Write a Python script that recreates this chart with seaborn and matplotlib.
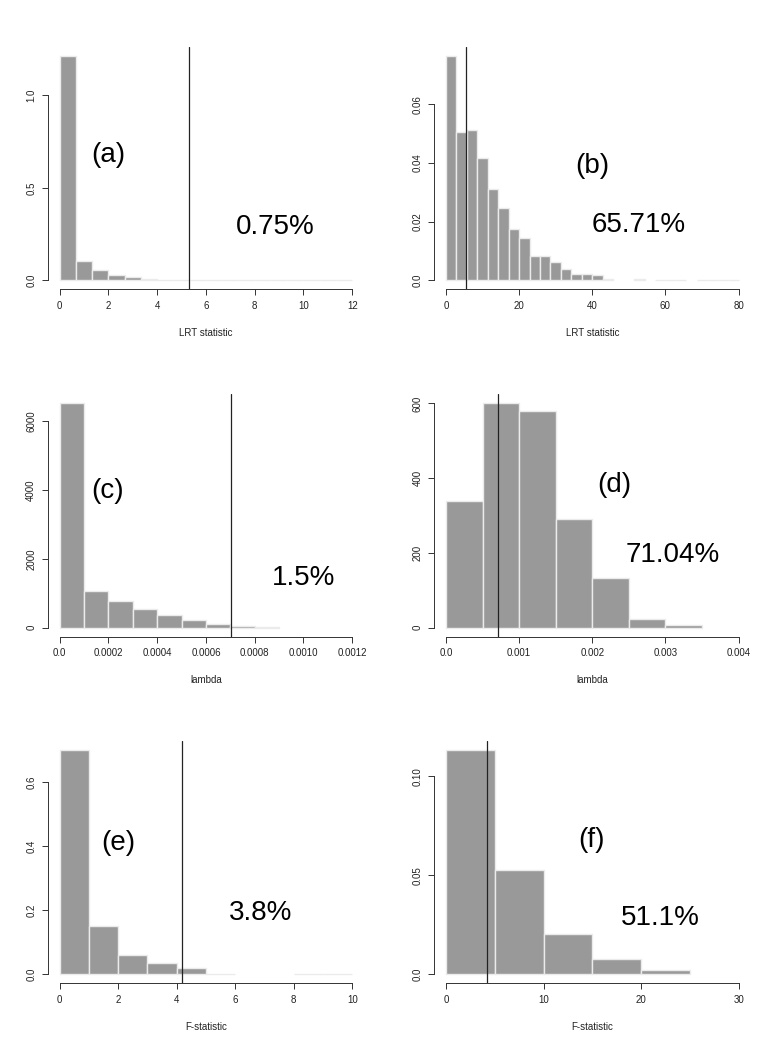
import numpy as np
import pandas as pd
import matplotlib
matplotlib.use("Agg")
import matplotlib.pyplot as plt
import seaborn as sns

sns.set_style("white")
plt.rcParams['font.family'] = ['Liberation Sans', 'DejaVu Sans']

# (a) LRT statistic, bins of width 2/3 from 0 to 12
a_heights = [1.215, 0.102, 0.055, 0.031, 0.016, 0.005, 0.002, 0.002,
             0.0004, 0.0004, 0.0004, 0.0004, 0.0004, 0.0004, 0.0004, 0.0004, 0.0004, 0.0004]
a_width = 2 / 3
# (b) LRT statistic, bins of width 80/28
b_heights = [0.0765, 0.0504, 0.0512, 0.0418, 0.0311, 0.0246, 0.0175, 0.0144,
             0.0082, 0.0082, 0.0064, 0.0038, 0.0023, 0.0023, 0.0017, 0.0003,
             0.0, 0.0, 0.0003, 0.0, 0.0001, 0.0001, 0.0001, 0.0,
             0.0001, 0.0001, 0.0001, 0.0001]
b_width = 80 / 28
# (c) lambda, bins of width 0.0001
c_heights = [6530, 1063, 771, 556, 371, 215, 117, 39, 8]
c_width = 0.0001
# (d) lambda, bins of width 0.0005
d_heights = [338, 601, 579, 291, 134, 24, 8]
d_width = 0.0005
# (e) F-statistic, bins of width 1
e_heights = [0.700, 0.150, 0.060, 0.034, 0.019, 0.0004, 0.0, 0.0, 0.0004, 0.0004]
e_width = 1.0
# (f) F-statistic, bins of width 5
f_heights = [0.1134, 0.0529, 0.0205, 0.0078, 0.0024]
f_width = 5.0

vlines = [5.31, 5.37, 0.000704, 0.000713, 4.18, 4.23]
labels = ['(a)', '(b)', '(c)', '(d)', '(e)', '(f)']
percents = ['0.75%', '65.71%', '1.5%', '71.04%', '3.8%', '51.1%']
xlabels = ['LRT statistic', 'LRT statistic', 'lambda', 'lambda', 'F-statistic', 'F-statistic']
xticks = [np.arange(0, 13, 2), np.arange(0, 81, 20),
          [0.0, 0.0002, 0.0004, 0.0006, 0.0008, 0.0010, 0.0012],
          [0.0, 0.001, 0.002, 0.003, 0.004],
          np.arange(0, 11, 2), [0, 10, 20, 30]]
xticklabels = [None, None,
               ['0.0', '0.0002', '0.0004', '0.0006', '0.0008', '0.0010', '0.0012'],
               ['0.0', '0.001', '0.002', '0.003', '0.004'], None, None]
yticks = [[0.0, 0.5, 1.0], [0.0, 0.02, 0.04, 0.06], [0, 2000, 4000, 6000],
          [0, 200, 400, 600], [0.0, 0.2, 0.4, 0.6], [0.0, 0.05, 0.10]]
yticklabels = [['0.0', '0.5', '1.0'], ['0.0', '0.02', '0.04', '0.06'],
               ['0', '2000', '4000', '6000'], ['0', '200', '400', '600'],
               ['0.0', '0.2', '0.4', '0.6'], ['0.0', '0.05', '0.10']]

# text positions in data units
label_pos = [(1.98, 0.68), (39.9, 0.039), (0.000198, 3970), (0.0023, 383), (2.0, 0.41), (14.9, 0.068)]
pct_pos = [(8.83, 0.29), (52.6, 0.0189), (0.00100, 1434), (0.0031, 195), (6.86, 0.19), (22.0, 0.0285)]

all_heights = [a_heights, b_heights, c_heights, d_heights, e_heights, f_heights]
all_widths = [a_width, b_width, c_width, d_width, e_width, f_width]

fig = plt.figure(figsize=(7.75, 10.43), dpi=100)
lefts = [0.0619, 0.5604]
bottoms = [0.7226, 0.3896, 0.0572]
w, h = 0.4077, 0.2326
axis_col = '#333333'

for i in range(6):
    ax = fig.add_axes([lefts[i % 2], bottoms[i // 2], w, h])
    heights = np.array(all_heights[i], dtype=float)
    width = all_widths[i]
    edges = np.arange(len(heights) + 1) * width
    df = pd.DataFrame({'x': (edges[:-1] + edges[1:]) / 2, 'w': heights})
    # bins as a plain list (seaborn compares bins == "auto" when weights are used)
    sns.histplot(data=df, x='x', weights='w', bins=edges.tolist(), stat='count',
                 color='#999999', edgecolor='#ebebeb', linewidth=1.0,
                 alpha=1.0, ax=ax)
    # empty bins leave no trace
    for p in ax.patches:
        if p.get_height() == 0:
            p.set_visible(False)
    x0, x1 = xticks[i][0], xticks[i][-1]
    ymax = heights.max()
    ax.set_xlim(x0 - 0.04 * (x1 - x0), x1 + 0.04 * (x1 - x0))
    ax.set_ylim(-0.04 * ymax, 1.04 * ymax)
    ax.axvline(vlines[i], color='#222222', lw=0.9)

    ax.set_xticks(xticks[i])
    if xticklabels[i] is not None:
        ax.set_xticklabels(xticklabels[i])
    ax.set_yticks(yticks[i])
    ax.set_yticklabels(yticklabels[i], rotation=90, va='center')
    ax.tick_params(axis='both', direction='out', length=4, width=0.7,
                   colors=axis_col, labelsize=7, labelcolor='#222222', pad=4.5,
                   bottom=True, left=True)
    for s in ['top', 'right']:
        ax.spines[s].set_visible(False)
    for s in ['left', 'bottom']:
        ax.spines[s].set_color(axis_col)
        ax.spines[s].set_linewidth(0.7)
    ax.spines['bottom'].set_bounds(x0, x1)
    ax.spines['left'].set_bounds(yticks[i][0], yticks[i][-1])

    ax.set_xlabel(xlabels[i], fontsize=7, labelpad=12, color='#222222')
    ax.set_ylabel('')
    ax.grid(False)

    ax.text(label_pos[i][0], label_pos[i][1], labels[i], fontsize=20,
            ha='center', va='center', color='black')
    ax.text(pct_pos[i][0], pct_pos[i][1], percents[i], fontsize=20,
            ha='center', va='center', color='black')

fig.savefig('out.png', dpi=100, facecolor='white')
